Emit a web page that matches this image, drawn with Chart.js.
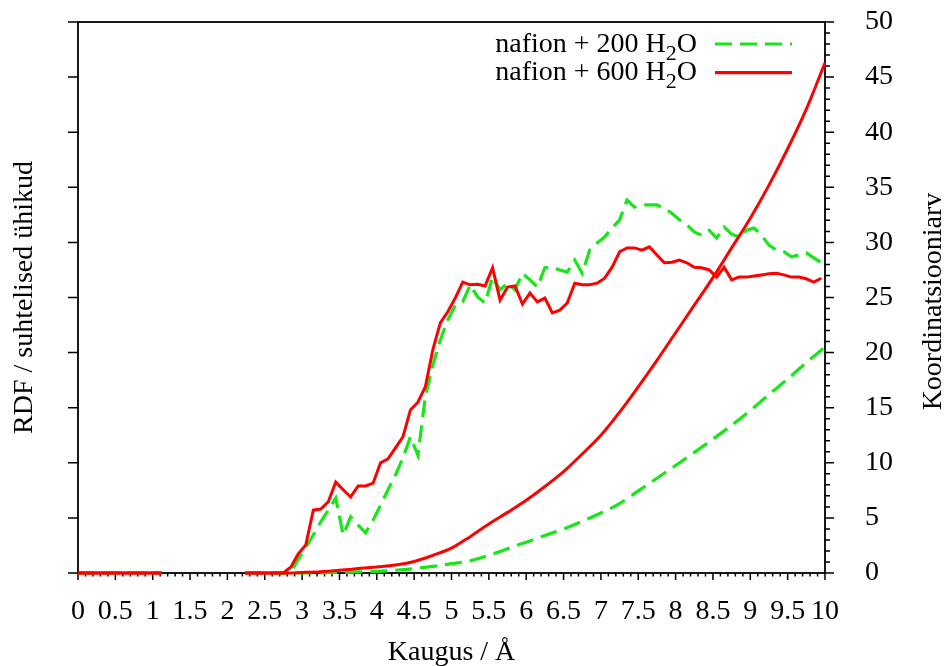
<!DOCTYPE html>
<html>
<head>
<meta charset="utf-8">
<script src="https://cdn.jsdelivr.net/npm/chart.js@4.4.1/dist/chart.umd.min.js"></script>
<style>
html,body{margin:0;padding:0;background:#fff;}
#wrap{width:945px;height:666px;}
</style>
</head>
<body>
<div id="wrap"><canvas id="c" width="945" height="666"></canvas></div>
<script>
// ---------- DATA ----------
const seriesLabels = ['nafion + 200 H₂O', 'nafion + 600 H₂O'];
const xTitle = 'Kaugus / Å';
const yLeftTitle = 'RDF / suhtelised ühikud';
const yRightTitle = 'Koordinatsiooniarv';

const xTickValues = [0,0.5,1,1.5,2,2.5,3,3.5,4,4.5,5,5.5,6,6.5,7,7.5,8,8.5,9,9.5,10];
const xTickLabels = ['0','0.5','1','1.5','2','2.5','3','3.5','4','4.5','5','5.5','6','6.5','7','7.5','8','8.5','9','9.5','10'];
const yRightTickValues = [0,5,10,15,20,25,30,35,40,45,50];
const yRightTickLabels = ['0','5','10','15','20','25','30','35','40','45','50'];
const yLeftTickValues = [0,1,2,3,4,5,6,7,8,9,10];

// RDF distance grid (Å); null entry = gap in data
const rdfX = [0, 1.12, 1.7, 2.24, 2.35, 2.45, 2.55, 2.65, 2.75, 2.85, 2.95, 3.05, 3.15, 3.25, 3.35, 3.45, 3.55, 3.65, 3.75, 3.85, 3.95,
  4.05, 4.15, 4.25, 4.35, 4.45, 4.55, 4.65, 4.75, 4.85, 4.95, 5.05, 5.15, 5.25, 5.35, 5.45, 5.55, 5.65, 5.75, 5.85, 5.95,
  6.05, 6.15, 6.25, 6.35, 6.45, 6.55, 6.65, 6.75, 6.85, 6.95, 7.05, 7.15, 7.25, 7.35, 7.45, 7.55, 7.65, 7.75, 7.85, 7.95,
  8.05, 8.15, 8.25, 8.35, 8.45, 8.55, 8.65, 8.75, 8.85, 8.95, 9.05, 9.15, 9.25, 9.35, 9.45, 9.55, 9.65, 9.75, 9.85, 9.95];

// RDF, nafion + 200 H2O (relative units, left axis)
const rdf200 = [0, 0, null, 0, 0, 0, 0, 0, 0, 0.02, 0.25, 0.47, 0.69, 0.93, 1.14, 1.36, 0.69, 1.02, 0.87, 0.73, 0.96,
  1.23, 1.51, 1.78, 2.09, 2.47, 2.14, 3.2, 3.77, 4.23, 4.59, 4.86, 4.92, 5.23, 5.01, 4.90, 5.37, 5.14, 5.26, 5.14, 5.44,
  5.32, 5.19, 5.54, 5.55, 5.50, 5.46, 5.68, 5.44, 5.86, 5.99, 6.10, 6.26, 6.41, 6.77, 6.64, 6.68, 6.68, 6.68, 6.62, 6.53,
  6.41, 6.32, 6.19, 6.13, 6.22, 6.08, 6.28, 6.15, 6.10, 6.22, 6.26, 6.13, 5.95, 5.86, 5.83, 5.74, 5.77, 5.81, 5.72, 5.63];

// RDF, nafion + 600 H2O (relative units, left axis)
const rdf600 = [0, 0, null, 0, 0, 0, 0, 0, 0, 0.11, 0.35, 0.51, 1.14, 1.16, 1.29, 1.65, 1.51, 1.38, 1.58, 1.58, 1.63,
  2.00, 2.07, 2.27, 2.47, 2.96, 3.10, 3.38, 4.05, 4.54, 4.74, 4.99, 5.28, 5.23, 5.24, 5.21, 5.54, 4.95, 5.19, 5.21, 4.88,
  5.08, 4.92, 4.99, 4.72, 4.77, 4.90, 5.26, 5.23, 5.23, 5.26, 5.35, 5.55, 5.83, 5.90, 5.90, 5.86, 5.92, 5.77, 5.63, 5.64,
  5.68, 5.63, 5.55, 5.54, 5.50, 5.37, 5.55, 5.32, 5.37, 5.37, 5.39, 5.41, 5.43, 5.44, 5.41, 5.37, 5.37, 5.34, 5.28, 5.35];

// Coordination number grid (Å)
const cnX = [0, 1.12, 1.7, 2.24, 2.75, 3.0, 3.25, 3.5, 3.75, 4.0, 4.25, 4.5, 4.75, 5.0, 5.25, 5.5, 5.75, 6.0, 6.25, 6.5,
  6.75, 7.0, 7.25, 7.5, 7.75, 8.0, 8.25, 8.5, 8.75, 9.0, 9.25, 9.5, 9.75, 10.0];
const cn200 = [0, 0, null, 0, 0, 0, 0.02, 0.05, 0.1, 0.15, 0.25, 0.4, 0.6, 0.85, 1.1, 1.6, 2.2, 2.8, 3.4, 4.0,
  4.7, 5.45, 6.3, 7.45, 8.6, 9.75, 10.95, 12.15, 13.4, 14.75, 16.2, 17.6, 19.1, 20.5];
const cn600 = [0, 0, null, 0, 0, 0.05, 0.12, 0.25, 0.4, 0.55, 0.72, 1.05, 1.6, 2.25, 3.3, 4.45, 5.5, 6.6, 7.85, 9.2,
  10.8, 12.5, 14.6, 16.9, 19.3, 21.8, 24.3, 26.8, 29.5, 32.2, 35.2, 38.5, 42.1, 46.3];

// ---------- STYLE ----------
const FONT = "'Liberation Serif', 'Times New Roman', Times, serif";
const FS = 28;
const GREEN = '#19e619';
const RED = '#ff0000';
const DASH = [17, 8];

function pts(xs, ys) { return xs.map((x, i) => ({x: x, y: ys[i]})); }
function noPad(s) { s.paddingTop = 0; s.paddingBottom = 0; s.paddingLeft = 0; s.paddingRight = 0; }

Chart.defaults.font.family = FONT;
Chart.defaults.font.size = FS;
Chart.defaults.color = '#000';

const framePlugin = {
  id: 'frame',
  beforeDatasetsDraw(chart) {
    const {ctx, chartArea: a, scales} = chart;
    const sx = scales.x, yl = scales.yL, yr = scales.yR;
    ctx.save();
    ctx.strokeStyle = '#000';
    ctx.lineCap = 'butt';
    ctx.lineWidth = 1.5;
    ctx.beginPath();
    for (let i = 0; i <= 100; i++) {
      const v = sx.min + (sx.max - sx.min) * i / 100;
      const px = sx.getPixelForValue(v);
      const len = (i % 5 === 0) ? 7 : 3.5;
      ctx.moveTo(px, a.bottom); ctx.lineTo(px, a.bottom + len);
    }
    for (let i = 0; i <= 50; i++) {
      const v = yr.min + (yr.max - yr.min) * i / 50;
      const py = yr.getPixelForValue(v);
      const len = (i % 5 === 0) ? 9 : 5;
      ctx.moveTo(a.right, py); ctx.lineTo(a.right + len, py);
    }
    for (const v of yLeftTickValues) {
      const py = yl.getPixelForValue(v);
      ctx.moveTo(a.left, py); ctx.lineTo(a.left - 10, py);
    }
    ctx.stroke();
    ctx.lineWidth = 1.8;
    ctx.strokeRect(a.left, a.top, a.right - a.left, a.bottom - a.top);
    ctx.restore();
  },
  afterDraw(chart) {
    const {ctx, chartArea: a} = chart;
    ctx.save();
    ctx.fillStyle = '#000';
    ctx.font = FS + 'px ' + FONT;
    ctx.textBaseline = 'alphabetic';
    ctx.textAlign = 'center';
    ctx.fillText(xTitle, (a.left + a.right) / 2, 660);
    const cy = (a.top + a.bottom) / 2;
    ctx.save(); ctx.translate(32, cy); ctx.rotate(-Math.PI / 2); ctx.fillText(yLeftTitle, 0, 0); ctx.restore();
    ctx.save(); ctx.translate(941, cy + 4); ctx.rotate(-Math.PI / 2); ctx.fillText(yRightTitle, 0, 0); ctx.restore();

    const rows = [
      {label: seriesLabels[0], color: GREEN, dash: DASH, base: 51.7, ly: 44},
      {label: seriesLabels[1], color: RED, dash: [], base: 80, ly: 72.7}
    ];
    const textRight = 697, sx0 = 715, sx1 = 792;
    for (const r of rows) {
      const parts = [];
      const segs = r.label.split('₂');
      segs.forEach((s, i) => { if (s) parts.push({t: s, sub: false}); if (i < segs.length - 1) parts.push({t: '2', sub: true}); });
      let total = 0;
      for (const p of parts) {
        ctx.font = (p.sub ? Math.round(FS * 0.8) : FS) + 'px ' + FONT;
        p.w = ctx.measureText(p.t).width;
        total += p.w;
      }
      let x = textRight - total;
      ctx.textAlign = 'left';
      for (const p of parts) {
        ctx.font = (p.sub ? Math.round(FS * 0.8) : FS) + 'px ' + FONT;
        ctx.fillText(p.t, x, r.base + (p.sub ? 8 : 0));
        x += p.w;
      }
      ctx.save();
      ctx.strokeStyle = r.color;
      ctx.lineWidth = 3.2;
      ctx.setLineDash(r.dash);
      ctx.beginPath(); ctx.moveTo(sx0, r.ly); ctx.lineTo(sx1, r.ly); ctx.stroke();
      ctx.restore();
    }
    ctx.restore();
  }
};

new Chart(document.getElementById('c'), {
  type: 'line',
  data: {
    datasets: [
      {label: seriesLabels[0] + ' RDF', data: pts(rdfX, rdf200), yAxisID: 'yL', borderColor: GREEN, borderWidth: 3.2,
       borderDash: DASH, pointRadius: 0, tension: 0, spanGaps: false, clip: 6, order: 4},
      {label: seriesLabels[0] + ' CN', data: pts(cnX, cn200), yAxisID: 'yR', borderColor: GREEN, borderWidth: 3.2,
       borderDash: DASH, pointRadius: 0, cubicInterpolationMode: 'monotone', spanGaps: false, clip: 6, order: 3},
      {label: seriesLabels[1] + ' RDF', data: pts(rdfX, rdf600), yAxisID: 'yL', borderColor: RED, borderWidth: 3,
       pointRadius: 0, tension: 0, spanGaps: false, clip: 6, order: 2},
      {label: seriesLabels[1] + ' CN', data: pts(cnX, cn600), yAxisID: 'yR', borderColor: RED, borderWidth: 3,
       pointRadius: 0, cubicInterpolationMode: 'monotone', spanGaps: false, clip: 6, order: 1}
    ]
  },
  options: {
    responsive: false,
    animation: false,
    events: [],
    layout: {padding: {top: 22, left: 0, right: 0, bottom: 0}},
    plugins: {legend: {display: false}, tooltip: {enabled: false}, title: {display: false}},
    scales: {
      x: {
        type: 'linear', position: 'bottom', min: 0, max: 10,
        grid: {display: false}, border: {display: false},
        afterBuildTicks: s => { s.ticks = xTickValues.map(v => ({value: v})); },
        ticks: {autoSkip: false, maxRotation: 0, minRotation: 0, padding: 14, color: '#000',
                font: {size: FS, family: FONT}, callback: (v, i) => xTickLabels[i]},
        afterFit: s => { s.height = 93; noPad(s); }
      },
      yL: {
        type: 'linear', position: 'left', min: 0, max: 10,
        grid: {display: false}, border: {display: false},
        ticks: {display: false},
        afterFit: s => { s.width = 78; noPad(s); }
      },
      yR: {
        type: 'linear', position: 'right', min: 0, max: 50,
        grid: {display: false}, border: {display: false},
        afterBuildTicks: s => { s.ticks = yRightTickValues.map(v => ({value: v})); },
        ticks: {padding: 32, color: '#000', font: {size: FS, family: FONT}, callback: (v, i) => yRightTickLabels[i]},
        afterFit: s => { s.width = 120; noPad(s); }
      }
    }
  },
  plugins: [framePlugin]
});
</script>
</body>
</html>
